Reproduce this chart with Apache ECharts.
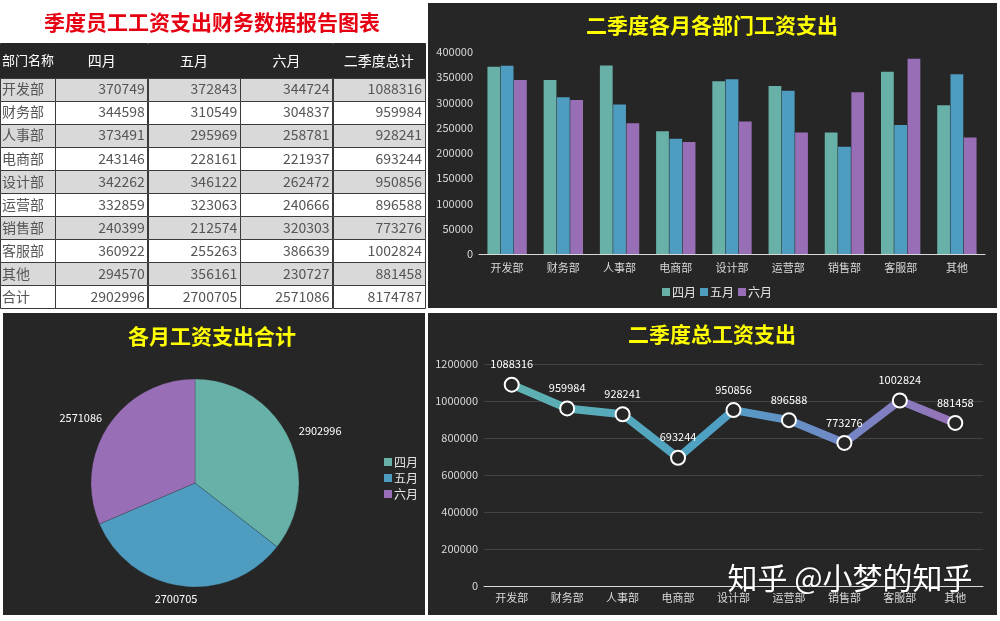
<!DOCTYPE html>
<html><head><meta charset="utf-8">
<script src="https://cdn.jsdelivr.net/npm/echarts@6/dist/echarts.min.js"></script>
<style>html,body{margin:0;padding:0;background:#fff}#c{width:1000px;height:621px}</style>
</head><body><div id="c"></div>
<script>
// ---- data ----
const departments = ['开发部','财务部','人事部','电商部','设计部','运营部','销售部','客服部','其他'];
const months = ['四月','五月','六月'];
const april = [370749,344598,373491,243146,342262,332859,240399,360922,294570];
const may   = [372843,310549,295969,228161,346122,323063,212574,255263,356161];
const june  = [344724,304837,258781,221937,262472,240666,320303,386639,230727];
const quarterTotal = [1088316,959984,928241,693244,950856,896588,773276,1002824,881458];
const monthTotal = [2902996,2700705,2571086];
const grandTotal = 8174787;
const tableHeader = ['部门名称','四月','五月','六月','二季度总计'];
const totalLabel = '合计';
const barAxisMax = 400000, barAxisStep = 50000;
const lineAxisMax = 1200000, lineAxisStep = 200000;
const titles = ['季度员工工资支出财务数据报告图表','二季度各月各部门工资支出','各月工资支出合计','二季度总工资支出'];
const watermark = '知乎 @小梦的知乎';

// ---- styles ----
const FONT = '"Noto Sans CJK SC","Noto Sans",sans-serif';
const DARK = '#262626';
const colors = ['#67b1a9','#4e9cc0','#986fb6'];
const colW = [0.6,1,1,1,1];
const colEdges = colW.reduce((a,w)=>{a.push(a[a.length-1]+w);return a;},[0]);
const headerH = 1.5;

// table cells
const tableRows = [tableHeader].concat(
  departments.map((d,i)=>[d, april[i], may[i], june[i], quarterTotal[i]]),
  [[totalLabel].concat(monthTotal, [grandTotal])]
);
const cells = [];
tableRows.forEach((row,r)=>row.forEach((v,c)=>cells.push({c:c,r:r,t:String(v)})));

const chart = echarts.init(document.getElementById('c'));
const plain = v => String(v);
const axisTxt = {color:'#d9d9d9', fontSize:11, fontFamily:FONT};

chart.setOption({
  backgroundColor:'#ffffff',
  animation:false,
  graphic:[
    {type:'rect', z:-10, shape:{x:428,y:3,width:569,height:305}, style:{fill:DARK}},
    {type:'rect', z:-10, shape:{x:3,y:313,width:422,height:302}, style:{fill:DARK}},
    {type:'rect', z:-10, shape:{x:428,y:313,width:569,height:302}, style:{fill:DARK}},
    {type:'text', z:10, x:212, y:22, style:{text:titles[0], align:'center', verticalAlign:'middle', fill:'#e60012', font:'bold 21px '+FONT}},
    {type:'text', z:10, x:712, y:25, style:{text:titles[1], align:'center', verticalAlign:'middle', fill:'#ffff00', font:'bold 21px '+FONT}},
    {type:'text', z:10, x:212, y:336, style:{text:titles[2], align:'center', verticalAlign:'middle', fill:'#ffff00', font:'bold 21px '+FONT}},
    {type:'text', z:10, x:712, y:334, style:{text:titles[3], align:'center', verticalAlign:'middle', fill:'#ffff00', font:'bold 21px '+FONT}},
    {type:'text', z:100, x:850, y:578, style:{text:watermark, align:'center', verticalAlign:'middle', fill:'#ffffff', font:'30px '+FONT, textShadowColor:'rgba(0,0,0,0.4)', textShadowBlur:2}}
  ],
  legend:[
    {data:months, left:662, top:286, itemWidth:8, itemHeight:8, itemGap:4, padding:0, icon:'rect',
     textStyle:{color:'#e6e6e6', fontSize:12, fontFamily:FONT, padding:[0,0,0,-3]}},
    {data:months, orient:'vertical', left:384, top:456, itemWidth:8, itemHeight:8, itemGap:4, padding:0, icon:'rect',
     textStyle:{color:'#e6e6e6', fontSize:12, fontFamily:FONT, padding:[0,0,0,-3]}}
  ],
  grid:[
    {left:0, top:43, width:425, height:265},
    {left:479, top:52, width:506, height:202},
    {left:484, top:364, width:499, height:222}
  ],
  xAxis:[
    {gridIndex:0, type:'value', min:0, max:colEdges[colEdges.length-1], show:false},
    {gridIndex:1, type:'category', data:departments, axisTick:{show:false},
     axisLine:{lineStyle:{color:'#d9d9d9'}}, axisLabel:Object.assign({margin:8}, axisTxt)},
    {gridIndex:2, type:'category', data:departments, axisTick:{show:false},
     axisLine:{lineStyle:{color:'#d9d9d9'}}, axisLabel:Object.assign({margin:6}, axisTxt)}
  ],
  yAxis:[
    {gridIndex:0, type:'value', min:0, max:headerH+tableRows.length-1, inverse:true, show:false},
    {gridIndex:1, type:'value', min:0, max:barAxisMax, interval:barAxisStep, splitLine:{show:false},
     axisLine:{show:false}, axisTick:{show:false}, axisLabel:Object.assign({margin:6, formatter:plain}, axisTxt)},
    {gridIndex:2, type:'value', min:0, max:lineAxisMax, interval:lineAxisStep,
     splitLine:{lineStyle:{color:'#444444'}}, axisLine:{show:false}, axisTick:{show:false},
     axisLabel:Object.assign({margin:6, formatter:plain}, axisTxt)}
  ],
  series:[
    {type:'custom', xAxisIndex:0, yAxisIndex:0, clip:false, silent:true,
     data:cells.map(d=>[d.c,d.r]),
     renderItem:function(params, api){
       const d = cells[params.dataIndex];
       const x0 = colEdges[d.c], x1 = colEdges[d.c+1];
       const y0 = d.r===0 ? 0 : headerH + d.r - 1;
       const y1 = d.r===0 ? headerH : y0 + 1;
       const p0 = api.coord([x0,y0]), p1 = api.coord([x1,y1]);
       const isHead = d.r===0;
       const fill = isHead ? DARK : (d.r % 2 === 1 ? '#d9d9d9' : '#ffffff');
       let tx, align;
       if (d.c===0) { tx = p0[0]+2; align='left'; }
       else if (isHead) { tx = (p0[0]+p1[0])/2; align='center'; }
       else { tx = p1[0]-3; align='right'; }
       const fs = (d.c===0 && isHead) ? 13 : 14;
       return {type:'group', children:[
         {type:'rect', shape:{x:Math.round(p0[0])+0.5, y:Math.round(p0[1])+0.5, width:Math.round(p1[0]-p0[0]), height:Math.round(p1[1]-p0[1])},
          style:{fill:fill, stroke:isHead?DARK:'#3a3a3a', lineWidth:1}},
         {type:'text', x:tx, y:(p0[1]+p1[1])/2,
          style:{text:d.t, align:align, verticalAlign:'middle', fill:isHead?'#ffffff':'#555555', font:fs+'px '+FONT}}
       ]};
     }
    },
    {name:months[0], type:'bar', xAxisIndex:1, yAxisIndex:1, data:april, barGap:'4%', barCategoryGap:'30%', itemStyle:{color:colors[0]}},
    {name:months[1], type:'bar', xAxisIndex:1, yAxisIndex:1, data:may, barGap:'4%', barCategoryGap:'30%', itemStyle:{color:colors[1]}},
    {name:months[2], type:'bar', xAxisIndex:1, yAxisIndex:1, data:june, barGap:'4%', barCategoryGap:'30%', itemStyle:{color:colors[2]}},
    {type:'pie', center:[195,483], radius:104, startAngle:90, clockwise:true,
     data:months.map((m,i)=>({name:m, value:monthTotal[i], itemStyle:{color:colors[i]}})),
     itemStyle:{borderColor:'rgba(38,38,38,0.5)', borderWidth:0.5},
     label:{show:true, position:'outside', formatter:'{c}', color:'#ffffff', fontSize:11, fontFamily:FONT},
     labelLine:{show:false, length:6, length2:0},
     labelLayout:function(p){ return p.dataIndex===1 ? {align:'center', dy:7} : (p.dataIndex===2 ? {dx:4, dy:-5} : {dy:-4}); }
    },
    {type:'line', xAxisIndex:2, yAxisIndex:2, data:quarterTotal, symbol:'circle', symbolSize:14,
     lineStyle:{width:8, color:new echarts.graphic.LinearGradient(0,0,1,0,[
       {offset:0,color:'#5fb3b0'},{offset:0.45,color:'#4ea0c4'},{offset:0.75,color:'#7387c6'},{offset:1,color:'#9a70b6'}])},
     itemStyle:{color:DARK, borderColor:'#ffffff', borderWidth:2},
     label:{show:true, position:'top', distance:7, color:'#ffffff', fontSize:11, fontFamily:FONT}
    }
  ]
});
</script></body></html>
